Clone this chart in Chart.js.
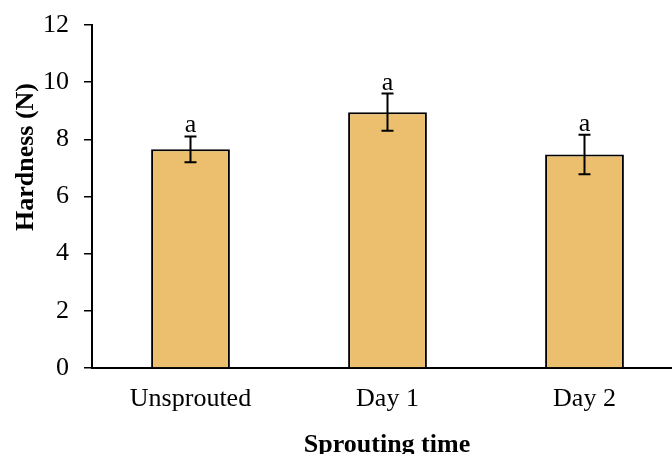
<!DOCTYPE html>
<html>
<head>
<meta charset="utf-8">
<script src="https://cdn.jsdelivr.net/npm/chart.js@4"></script>
<style>
  html, body { margin: 0; padding: 0; background: #fff; overflow: hidden; }
</style>
</head>
<body>
<canvas id="hardness-chart" width="684" height="454"></canvas>
<script>
// data
const categories = ['Unsprouted', 'Day 1', 'Day 2'];
const hardness = [7.65, 8.95, 7.47];
const hardnessSD = [0.45, 0.65, 0.69];
const letters = ['a', 'a', 'a'];
const yTicks = [0, 2, 4, 6, 8, 10, 12];

const serif = 'Liberation Serif, Times New Roman, serif';

// error bars + significance letters + axis titles
const extras = {
  id: 'extras',
  afterDatasetsDraw(chart) {
    const ctx = chart.ctx;
    const y = chart.scales.y;
    const meta = chart.getDatasetMeta(0);
    ctx.save();
    ctx.strokeStyle = '#000';
    ctx.lineWidth = 2;
    ctx.fillStyle = '#000';
    ctx.font = '26px ' + serif;
    ctx.textAlign = 'center';
    ctx.textBaseline = 'alphabetic';
    meta.data.forEach((bar, i) => {
      const top = y.getPixelForValue(hardness[i] + hardnessSD[i]);
      const bot = y.getPixelForValue(hardness[i] - hardnessSD[i]);
      ctx.beginPath();
      ctx.moveTo(bar.x, top); ctx.lineTo(bar.x, bot);
      ctx.moveTo(bar.x - 6, top); ctx.lineTo(bar.x + 6, top);
      ctx.moveTo(bar.x - 6, bot); ctx.lineTo(bar.x + 6, bot);
      ctx.stroke();
      ctx.fillText(letters[i], bar.x, top - 4);
    });
    ctx.restore();
  },
  afterDraw(chart) {
    const ctx = chart.ctx;
    ctx.save();
    ctx.fillStyle = '#000';
    ctx.font = 'bold 26px ' + serif;
    ctx.textAlign = 'center';
    ctx.textBaseline = 'alphabetic';
    ctx.fillText('Sprouting time', 387, 452);
    ctx.translate(33, 157);
    ctx.rotate(-Math.PI / 2);
    ctx.fillText('Hardness (N)', 0, 0);
    ctx.restore();
  }
};

const chartConfig = {
  type: 'bar',
  data: {
    labels: categories,
    datasets: [{
      data: hardness,
      backgroundColor: '#EBBF6E',
      borderColor: '#000',
      borderWidth: 2,
      barPercentage: 0.4,
      categoryPercentage: 1
    }]
  },
  options: {
    responsive: false,
    animation: false,
    devicePixelRatio: 1,
    layout: { padding: { top: 25, right: 1, left: 0, bottom: 0 } },
    plugins: { legend: { display: false }, tooltip: { enabled: false } },
    scales: {
      x: {
        grid: { display: false, drawTicks: false },
        border: { color: '#000', width: 2 },
        ticks: { color: '#000', font: { family: serif, size: 26 }, padding: 16 },
        afterFit: s => { s.height = 86; s.paddingLeft = 0; s.paddingRight = 0; }
      },
      y: {
        min: 0,
        max: 12,
        afterBuildTicks: s => { s.ticks = yTicks.map(v => ({ value: v })); },
        grid: { drawOnChartArea: false, drawTicks: true, tickLength: 8, color: '#000', lineWidth: 1.5 },
        border: { color: '#000', width: 2 },
        ticks: { color: '#000', font: { family: serif, size: 26 }, padding: 15 },
        afterFit: s => { s.width = 92; s.paddingTop = 0; s.paddingBottom = 0; }
      }
    }
  },
  plugins: [extras]
};

const ctx = document.getElementById('hardness-chart').getContext('2d');
const hardnessChart = new Chart(ctx, chartConfig);
</script>
</body>
</html>
